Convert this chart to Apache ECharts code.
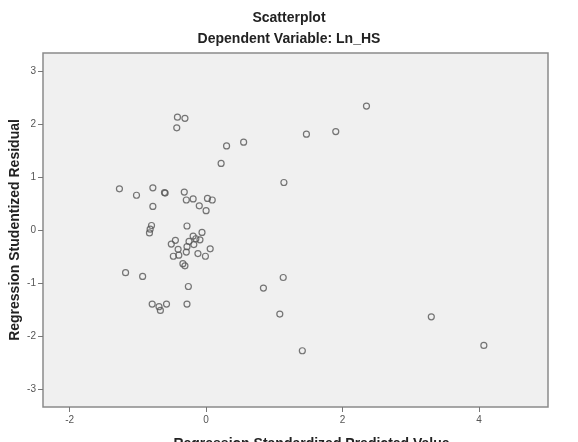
<!DOCTYPE html>
<html>
<head>
<meta charset="utf-8">
<script src="https://cdn.jsdelivr.net/npm/echarts@6/dist/echarts.min.js"></script>
<style>
  html, body { margin: 0; padding: 0; background: #fff; }
  #chart { width: 578px; height: 442px; }
</style>
</head>
<body>
<div id="chart"></div>
<script>
  // standardized predicted value (x) and studentized residual (y)
  const predicted = [
    -0.42, -0.31, -0.43, 0.55, 0.30, 0.22, 2.35, 1.90, 1.47, 1.14,
    -1.27, -1.02, -0.78, -0.61, -0.60, -0.32, -0.29, -0.19, 0.02, 0.09,
    -0.10, 0.00, -0.78, -0.80, -0.82, -0.83, -0.28, -0.06, -0.19, -0.09,
    -0.15, -0.25, -0.45, -0.51, -0.18, -0.28, -0.41, 0.06, -0.29, -0.12,
    -0.01, -0.48, -0.40, -0.34, -0.31, -1.18, -0.93, -0.26, 0.84, 1.13,
    1.08, 1.41, 3.30, 4.07, -0.79, -0.69, -0.67, -0.58, -0.28
  ]
  const residual = [
    2.13, 2.11, 1.93, 1.66, 1.59, 1.26, 2.34, 1.86, 1.81, 0.90,
    0.78, 0.66, 0.80, 0.71, 0.70, 0.72, 0.57, 0.59, 0.60, 0.57,
    0.46, 0.37, 0.45, 0.09, 0.02, -0.05, 0.08, -0.04, -0.11, -0.18,
    -0.16, -0.21, -0.19, -0.26, -0.27, -0.31, -0.36, -0.35, -0.41, -0.44,
    -0.49, -0.49, -0.47, -0.63, -0.67, -0.80, -0.87, -1.06, -1.09, -0.89,
    -1.58, -2.27, -1.63, -2.17, -1.39, -1.44, -1.51, -1.39, -1.39
  ]
  const xTicks = [-2, 0, 2, 4]
  const yTicks = [-3, -2, -1, 0, 1, 2, 3]

  const points = predicted.map((x, i) => [x, residual[i]])

  const chart = echarts.init(document.getElementById('chart'), null, { renderer: 'canvas' })

  const tickLabel = { color: '#555', fontSize: 10, fontFamily: 'Liberation Sans, Arial, sans-serif' }
  const nameStyle = { color: '#222', fontSize: 14, fontWeight: 'bold', fontFamily: 'Liberation Sans, Arial, sans-serif' }

  const option = {
    animation: false,
    backgroundColor: '#fff',
    title: [
      {
        text: 'Scatterplot',
        left: 'center',
        top: 6,
        textStyle: nameStyle
      },
      {
        text: 'Dependent Variable: Ln_HS',
        left: 'center',
        top: 27,
        textStyle: nameStyle
      }
    ],
    grid: {
      left: 43,
      right: 30,
      top: 53,
      bottom: 35,
      outerBoundsMode: 'none',
      show: true,
      backgroundColor: '#f0f0f0',
      borderColor: '#8a8a8a',
      borderWidth: 1.5
    },
    xAxis: {
      type: 'value',
      min: -2.39,
      max: 5.01,
      name: 'Regression Standardized Predicted Value',
      nameLocation: 'middle',
      nameGap: 30,
      nameMoveOverlap: false,
      nameTextStyle: Object.assign({ padding: [0, 0, 0, 32] }, nameStyle),
      splitLine: { show: false },
      axisLine: { show: false, onZero: false },
      axisTick: {
        show: true,
        length: 5,
        lineStyle: { color: '#777' },
        customValues: xTicks
      },
      axisLabel: Object.assign({ margin: 8, customValues: xTicks }, tickLabel)
    },
    yAxis: {
      type: 'value',
      min: -3.33,
      max: 3.34,
      name: 'Regression Studentized Residual',
      nameLocation: 'middle',
      nameGap: 21,
      nameRotate: 90,
      nameMoveOverlap: false,
      nameTextStyle: nameStyle,
      splitLine: { show: false },
      axisLine: { show: false, onZero: false },
      axisTick: {
        show: true,
        length: 5,
        lineStyle: { color: '#777' },
        customValues: yTicks
      },
      axisLabel: Object.assign({ margin: 7, customValues: yTicks }, tickLabel)
    },
    series: [
      {
        type: 'scatter',
        data: points,
        symbol: 'circle',
        symbolSize: 6,
        itemStyle: {
          color: 'transparent',
          borderColor: '#555',
          borderWidth: 1.2
        }
      }
    ]
  }

  chart.setOption(option)
</script>
</body>
</html>
